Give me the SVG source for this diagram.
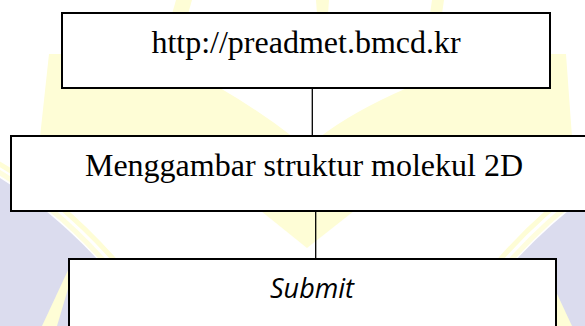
<svg xmlns="http://www.w3.org/2000/svg" width="585" height="326" viewBox="0 0 585 326">
  <style>
    .wm-y { fill: #fefdd6; }
    .wm-l { fill: #dbdcee; }
    .arc { fill: none; stroke: #fefdd6; stroke-width: 5; }
    .box { fill: #ffffff; stroke: #000000; stroke-width: 2; }
    .conn { stroke: #000000; stroke-width: 1.3; fill: none; }
    .serif { font-family: "Liberation Serif", "Times New Roman", serif; font-size: 32px; fill: #000; }
    .sans { font-family: "Open Sans", "Noto Sans", sans-serif; font-size: 27px; font-style: italic; fill: #000; }
  </style>
  <rect width="585" height="326" fill="#ffffff"/>
  <g id="watermark">
    <polygon class="wm-y" points="176,0 192,0 188,14 172,14"/>
    <polygon class="wm-y" points="316,0 329,0 328,14 317,14"/>
    <polygon class="wm-y" points="432,0 444,0 442,14 430,14"/>
    <path class="wm-y" d="M49,54 L63,54 L63,88 L220,88 Q258,110 293,137 L40,137 Z"/>
    <path class="wm-y" d="M566,54 L549,54 L549,88 L407,88 Q352,112 320,137 L572,137 Z"/>
    <polygon class="wm-y" points="261,211 354,211 307,248"/>
    <g id="wm-left">
      <path class="wm-l" d="M-10,172 Q48,206 100,262 L100,326 L-10,326 Z"/>
      <path class="arc" d="M-8,168 Q52,203 105,262" opacity="0.8"/>
      <path class="arc" d="M-4,162 Q60,198 116,262"/>
      <polygon class="wm-y" points="42,326 57,326 70,282 70,266"/>
    </g>
    <g id="wm-right" transform="translate(614,0) scale(-1,1)">
      <path class="wm-l" d="M-10,172 Q48,206 100,262 L100,326 L-10,326 Z"/>
      <path class="arc" d="M-8,168 Q52,203 105,262" opacity="0.8"/>
      <path class="arc" d="M-4,162 Q60,198 116,262"/>
      <polygon class="wm-y" points="42,326 57,326 70,282 70,266"/>
    </g>
  </g>
  <g id="connectors">
    <line class="conn" x1="312.3" y1="89" x2="312.3" y2="135"/>
    <line class="conn" x1="315.7" y1="212" x2="315.7" y2="258"/>
  </g>
  <g id="node-url">
    <rect class="box" x="62" y="13" width="488" height="75"/>
    <text class="serif" x="306" y="53" text-anchor="middle">http://preadmet.bmcd.kr</text>
  </g>
  <g id="node-draw">
    <rect class="box" x="11" y="136" width="590" height="75"/>
    <text class="serif" x="304" y="176" text-anchor="middle">Menggambar struktur molekul 2D</text>
  </g>
  <g id="node-submit">
    <rect class="box" x="69" y="259" width="487" height="80"/>
    <text class="sans" x="312" y="298" text-anchor="middle">Submit</text>
  </g>
</svg>
